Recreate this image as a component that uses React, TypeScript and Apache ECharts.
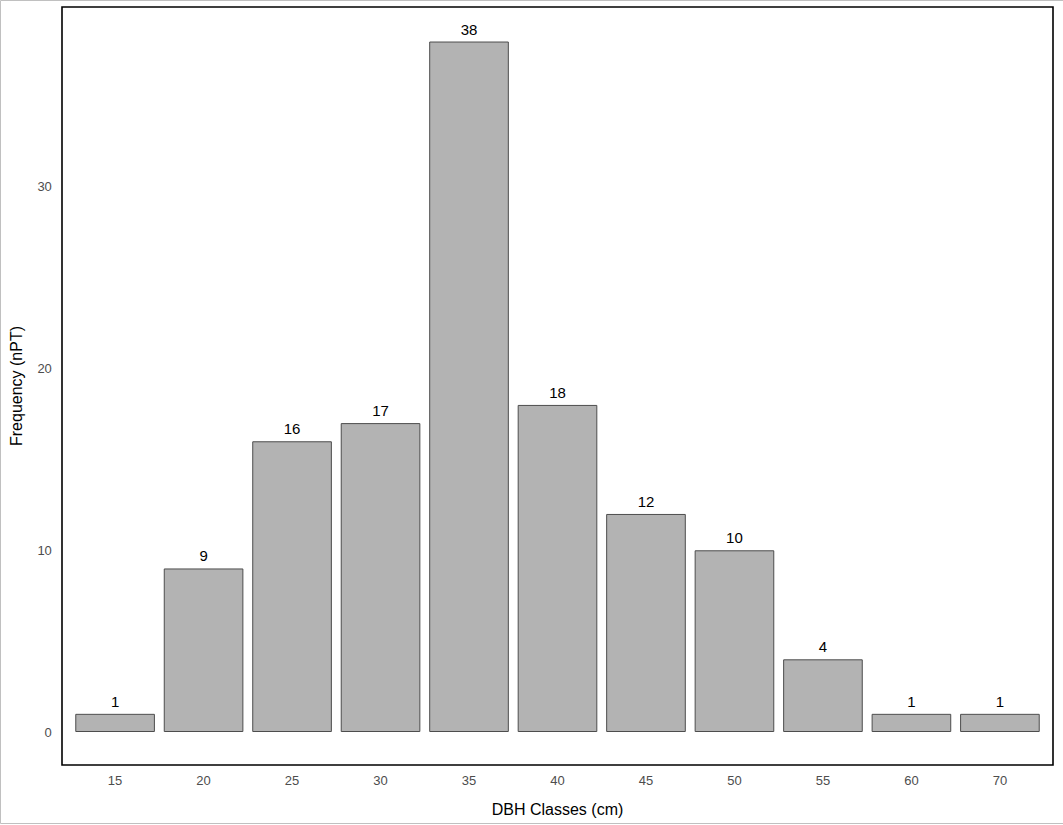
import React, { useEffect, useRef } from "react";
import * as echarts from "echarts";

const categories = ["15", "20", "25", "30", "35", "40", "45", "50", "55", "60", "70"];
const frequencies = [1, 9, 16, 17, 38, 18, 12, 10, 4, 1, 1];
const yTickValues = [0, 10, 20, 30];

const FONT = "'Liberation Sans', Arial, sans-serif";

export default function App() {
  const ref = useRef<HTMLDivElement>(null);
  useEffect(() => {
    document.body.style.margin = "0";
    if (!ref.current) return;
    const chart = echarts.init(ref.current, null, { renderer: "svg" });
    const panelL = 62, panelR = 1053, panelT = 7, panelB = 765;
    const unit = (panelR - panelL) / 11.2;
    const inset = unit * 0.1;
    chart.setOption({
      animation: false,
      backgroundColor: "#ffffff",
      grid: {
        left: panelL + inset,
        right: 1063 - panelR + inset,
        top: panelT,
        bottom: 825 - 732,
        containLabel: false,
      },
      xAxis: {
        type: "category",
        data: categories,
        axisLine: { show: false },
        axisTick: { show: false },
        axisLabel: { margin: 42, color: "#4d4d4d", fontSize: 13, fontFamily: FONT },
        splitLine: { show: false },
      },
      yAxis: {
        type: "value",
        min: 0,
        max: 39.9,
        interval: 10,
        axisLine: { show: false },
        axisTick: { show: false },
        splitLine: { show: false },
        axisLabel: {
          margin: 19,
          color: "#4d4d4d",
          fontSize: 13,
          fontFamily: FONT,
          showMaxLabel: false,
          formatter: (v: number) => (yTickValues.includes(v) ? String(v) : ""),
        },
      },
      series: [
        {
          type: "bar",
          data: frequencies,
          barCategoryGap: "10%",
          itemStyle: { color: "#b3b3b3", borderColor: "#4d4d4d", borderWidth: 1 },
          label: {
            show: true,
            position: "top",
            distance: 5,
            color: "#000000",
            fontSize: 15,
            fontFamily: FONT,
          },
        },
      ],
      graphic: [
        {
          type: "rect",
          shape: { x: 0.5, y: 0.5, width: 1070, height: 823 },
          style: { fill: "none", stroke: "#c0c0c0", lineWidth: 1 },
          silent: true,
        },
        {
          type: "rect",
          shape: { x: panelL, y: panelT, width: panelR - panelL, height: panelB - panelT },
          style: { fill: "none", stroke: "#000000", lineWidth: 1.6 },
          silent: true,
        },
        {
          type: "text",
          x: (panelL + panelR) / 2,
          y: 809,
          style: {
            text: "DBH Classes (cm)",
            fill: "#000000",
            fontSize: 16,
            fontFamily: FONT,
            align: "center",
            verticalAlign: "middle",
          },
        },
        {
          type: "text",
          x: 16,
          y: (panelT + panelB) / 2,
          rotation: Math.PI / 2,
          style: {
            text: "Frequency (nPT)",
            fill: "#000000",
            fontSize: 16,
            fontFamily: FONT,
            align: "center",
            verticalAlign: "middle",
          },
        },
      ],
    });
    return () => chart.dispose();
  }, []);
  return <div ref={ref} style={{ width: 1063, height: 825 }} />;
}
